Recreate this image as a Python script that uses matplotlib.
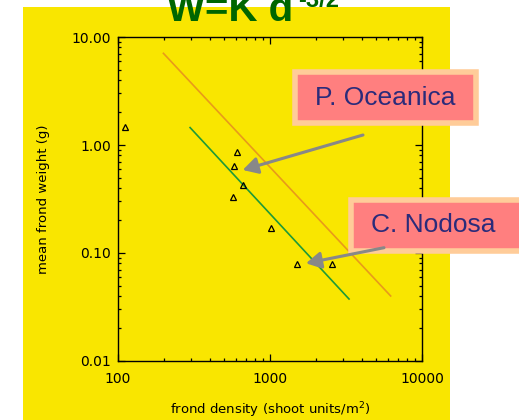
import matplotlib
matplotlib.use("Agg")
import matplotlib.pyplot as plt
from matplotlib.patches import Rectangle, FancyArrowPatch

W, H = 519, 420

# data
dens = [111, 604, 582, 667, 569, 1016, 1499, 2546]
weight = [1.47, 0.87, 0.64, 0.43, 0.33, 0.17, 0.079, 0.079]

# self-thinning lines (endpoints)
ocean_x = [199, 6220]
ocean_y = [7.06, 0.040]
nodosa_x = [298, 3311]
nodosa_y = [1.45, 0.0375]

yticks = [0.01, 0.1, 1, 10]
ytick_labels = ["0.01", "0.10", "1.00", "10.00"]
xticks = [100, 1000, 10000]
xtick_labels = ["100", "1000", "10000"]

YELLOW = "#F9E600"
PINK = "#FF7F7F"
PEACH = "#FFCC99"
NAVY = "#2B2B7A"
GREY = "#888888"


def fx(px):
    return px / W


def fy(py):
    return (H - py) / H


fig = plt.figure(figsize=(W / 100, H / 100), dpi=100)
fig.patch.set_facecolor("white")

# yellow slide background
fig.add_artist(Rectangle((fx(23), 0), fx(450) - fx(23), fy(7), transform=fig.transFigure,
                         facecolor=YELLOW, edgecolor="none", zorder=0))

ax = fig.add_axes([fx(118), fy(361), fx(422) - fx(118), fy(37) - fy(361)])
ax.set_facecolor(YELLOW)
ax.set_xscale("log")
ax.set_yscale("log")
ax.set_xlim(100, 10000)
ax.set_ylim(0.01, 10)

ax.plot(ocean_x, ocean_y, color="#E89A1A", lw=1.2)
ax.plot(nodosa_x, nodosa_y, color="#1E9A38", lw=1.2)
ax.plot(dens, weight, ls="none", marker="^", ms=5, mfc="none", mec="black", mew=0.9)

ax.set_xticks(xticks)
ax.set_xticklabels(xtick_labels)
ax.set_yticks(yticks)
ax.set_yticklabels(ytick_labels)
ax.tick_params(which="both", direction="in", top=True, right=True, labelsize=10, colors="black")
ax.tick_params(which="major", length=5, width=0.9)
ax.tick_params(which="minor", length=2.5, width=0.9)
ax.tick_params(axis="x", pad=8)
ax.tick_params(axis="y", pad=5)
for s in ax.spines.values():
    s.set_linewidth(1.0)

ax.set_ylabel("mean frond weight (g)", fontsize=9.5)
ax.set_xlabel("frond density (shoot units/m$^2$)", fontsize=9.5)
ax.yaxis.set_label_coords((50 - 118) / 304, 0.5)
ax.xaxis.set_label_coords(0.5, (361 - 400) / 324)

# title
fig.text(fx(167), fy(20.7), "W=K d", fontsize=29, fontweight="bold", color="#006600",
         family="Liberation Sans", va="baseline", ha="left")
fig.text(fx(298), fy(7), "-3/2", fontsize=17, fontweight="bold", color="#006600",
         family="Liberation Sans", va="baseline", ha="left")

# callout boxes
def callout(x0, y0, x1, y1, label, cx, cy):
    fig.add_artist(Rectangle((fx(x0), fy(y1)), fx(x1) - fx(x0), fy(y0) - fy(y1),
                             transform=fig.transFigure, facecolor=PINK, edgecolor=PEACH,
                             lw=4, zorder=5))
    fig.text(fx(cx), fy(cy), label, fontsize=19, color=NAVY, family="Liberation Sans",
             ha="center", va="center", zorder=6)


callout(294.5, 72, 475.5, 123, "P. Oceanica", 385, 98)
callout(351, 200, 525, 251, "C. Nodosa", 433, 225)

for tail, head in [((363, 135), (242.7, 170)), ((384, 247.7), (306, 263.3))]:
    fig.add_artist(FancyArrowPatch((fx(tail[0]), fy(tail[1])), (fx(head[0]), fy(head[1])),
                                   transform=fig.transFigure, arrowstyle="-|>,head_length=9,head_width=5",
                                   color=GREY, lw=2.2, zorder=7, shrinkA=0, shrinkB=0))

fig.savefig("out.png", dpi=100)
